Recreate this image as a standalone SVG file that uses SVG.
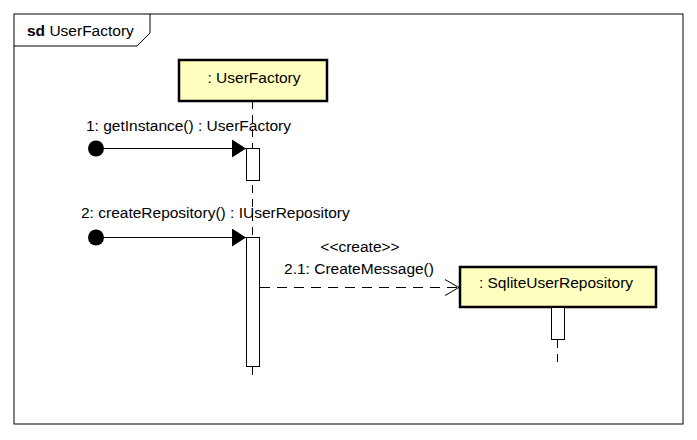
<svg xmlns="http://www.w3.org/2000/svg" width="697" height="440" viewBox="0 0 697 440">
<defs>
<style>
text{font-family:"Liberation Sans",Arial,sans-serif;font-size:15.5px;fill:#000}
.obj{fill:#FFFFC0;stroke:#000;stroke-width:2.5}
.act{fill:#fff;stroke:#000;stroke-width:1}
.life{stroke:#000;stroke-width:1;stroke-dasharray:8,6;fill:none}
.msg{stroke:#000;stroke-width:1;fill:none}
</style>
<marker id="filled" viewBox="0 0 14 18" refX="14" refY="9" markerWidth="14" markerHeight="18" markerUnits="userSpaceOnUse" orient="auto">
<path d="M0,0 L14,9 L0,18 Z" fill="#000"/>
</marker>
<marker id="open" viewBox="0 0 14 18" refX="14" refY="9" markerWidth="14" markerHeight="18" markerUnits="userSpaceOnUse" orient="auto">
<path d="M0,1 L14,9 L0,17" fill="none" stroke="#000" stroke-width="1"/>
</marker>
</defs>
<rect width="697" height="440" fill="#fff"/>
<g id="frame">
<rect x="14" y="14" width="669" height="410" fill="none" stroke="#000" stroke-width="1"/>
<path d="M14,46 L137,46 L150,33 L150,14" fill="none" stroke="#000" stroke-width="1"/>
<text x="27" y="36"><tspan font-weight="bold">sd</tspan> UserFactory</text>
</g>
<g id="lifelines">
<line class="life" x1="252.5" y1="101" x2="252.5" y2="381"/>
<line class="life" x1="557.5" y1="340" x2="557.5" y2="366"/>
</g>
<g id="UserFactory">
<rect class="obj" x="179" y="60" width="148" height="41"/>
<text x="254" y="83" text-anchor="middle">: UserFactory</text>
</g>
<g id="SqliteUserRepository">
<rect class="obj" x="460" y="267" width="196" height="40"/>
<text x="556" y="288" text-anchor="middle">: SqliteUserRepository</text>
</g>
<g id="activations">
<rect class="act" x="246.5" y="148.5" width="13" height="32"/>
<rect class="act" x="246.5" y="237.5" width="13" height="129"/>
<rect class="act" x="551.5" y="307.5" width="13" height="32"/>
</g>
<g id="connectors">
<circle cx="96" cy="148.5" r="8" fill="#000"/>
<line class="msg" x1="96" y1="148.5" x2="246" y2="148.5" marker-end="url(#filled)"/>
<circle cx="96" cy="237.5" r="8" fill="#000"/>
<line class="msg" x1="96" y1="237.5" x2="246" y2="237.5" marker-end="url(#filled)"/>
<line class="msg" x1="260" y1="287.5" x2="459" y2="287.5" stroke-dasharray="10,7" marker-end="url(#open)"/>
</g>
<g id="labels">
<text x="86" y="131">1: getInstance() : UserFactory</text>
<text x="81" y="218">2: createRepository() : IUserRepository</text>
<text x="360" y="252" text-anchor="middle">&lt;&lt;create&gt;&gt;</text>
<text x="359" y="274" text-anchor="middle">2.1: CreateMessage()</text>
</g>
</svg>
